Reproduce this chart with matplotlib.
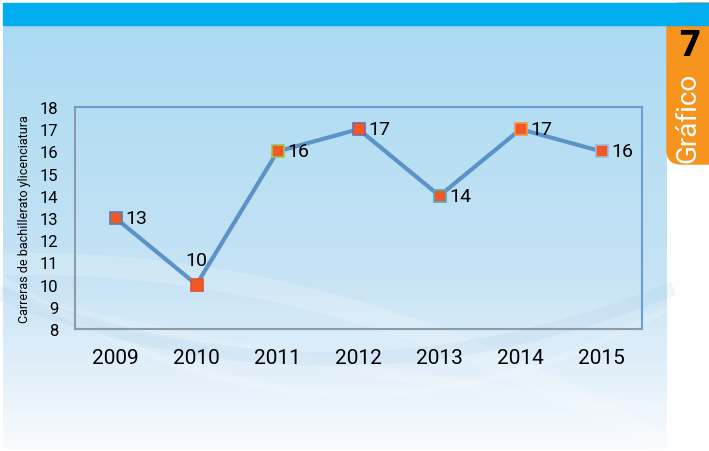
import matplotlib
matplotlib.use('Agg')
import matplotlib.pyplot as plt
import numpy as np
from matplotlib.patches import Rectangle, FancyBboxPatch

# Datos del gráfico
anios = ['2009', '2010', '2011', '2012', '2013', '2014', '2015']
carreras = [13, 10, 16, 17, 14, 17, 16]
bordes = ['#4F7FBF', '#E0523A', '#A8C050', '#8064A2', '#4BACC6', '#F79646', '#A7B5DA']

plt.rcParams['font.family'] = ['Roboto', 'DejaVu Sans']

W, H = 709, 452
fig = plt.figure(figsize=(W / 100, H / 100), dpi=100)
fig.patch.set_facecolor('white')

# Fondo
bg = fig.add_axes([0, 0, 1, 1])
bg.set_xlim(0, W)
bg.set_ylim(H, 0)
bg.axis('off')

# degradado del panel
ny = 200
t = np.linspace(0, 1, ny)[:, None]
top = np.array([0.667, 0.859, 0.949])
mid = np.array([0.780, 0.890, 0.960])
bot = np.array([0.975, 0.985, 0.998])
f1 = np.clip(t / 0.6, 0, 1)
f2 = np.clip((t - 0.6) / 0.4, 0, 1)
grad = np.where(t < 0.6, top + (mid - top) * f1, mid + (bot - mid) * f2)
grad = grad.reshape(ny, 1, 3).repeat(2, axis=1)
bg.imshow(grad, extent=[3, 667, 450, 26], aspect='auto', zorder=0)

# curvas decorativas (suaves)
xs = np.linspace(3, 667, 300)
bg.plot(xs, 265 + 0.00045 * (xs - 30) ** 2,
        color='white', alpha=0.18, lw=16, zorder=1)
bg.plot(xs, 300 + 130 * np.sin(np.linspace(0, 1.2, 300)) * 0.9,
        color='white', alpha=0.15, lw=8, zorder=1)
bg.plot(xs, 395 - 0.0009 * (xs - 360) ** 2,
        color='white', alpha=0.18, lw=5, zorder=1)
bg.plot(xs, 360 - 0.0006 * (xs - 330) ** 2,
        color='#9FC3E2', alpha=0.15, lw=10, zorder=1)

# pestaña naranja (debajo de la barra)
bg.add_patch(FancyBboxPatch((667, 4), 60, 161,
                            boxstyle='round,pad=0,rounding_size=14',
                            color='#F7941D', zorder=2))
# barra superior
bg.add_patch(Rectangle((3, 4), 706, 22, color='#00AEEF', zorder=3))
bg.text(690, 46, '7', fontsize=26, fontweight='heavy', color='black',
        ha='center', va='center', zorder=4)
bg.text(688, 118, 'Gráfico', fontsize=20, color='white', rotation=90,
        ha='center', va='center', zorder=4)

# Gráfica
ax = fig.add_axes([75 / W, 1 - 330 / H, (642 - 75) / W, (330 - 108) / H])
ax.patch.set_alpha(0)
x = np.arange(len(anios))
ax.plot(x, carreras, color='#5B93C8', lw=3, zorder=3)
for xi, yi, ec in zip(x, carreras, bordes):
    ax.plot(xi, yi, marker='s', ms=8, mfc='#F05A22', mec=ec, mew=1.2,
            zorder=4)
    if yi == 10:
        ax.text(xi, yi + 0.7, str(yi), fontsize=14, ha='center', va='bottom')
    else:
        ax.text(xi + 0.12, yi, str(yi), fontsize=14, ha='left', va='center')

ax.set_xlim(-0.5, 6.5)
ax.set_ylim(8, 18)
ax.set_yticks(range(8, 19))
ax.set_xticks(x)
ax.set_xticklabels(anios, fontsize=15)
ax.tick_params(axis='y', labelsize=12, length=0, pad=12)
ax.tick_params(axis='x', length=0, pad=14)
for s in ['top', 'right']:
    ax.spines[s].set_color('#6A9FD4')
for s in ['left', 'bottom']:
    ax.spines[s].set_color('#8C9AAA')
for s in ax.spines.values():
    s.set_linewidth(1.5)
ax.set_ylabel('Carreras de bachillerato ylicenciatura', fontsize=9,
              labelpad=6)

fig.savefig('out.png', dpi=100)
